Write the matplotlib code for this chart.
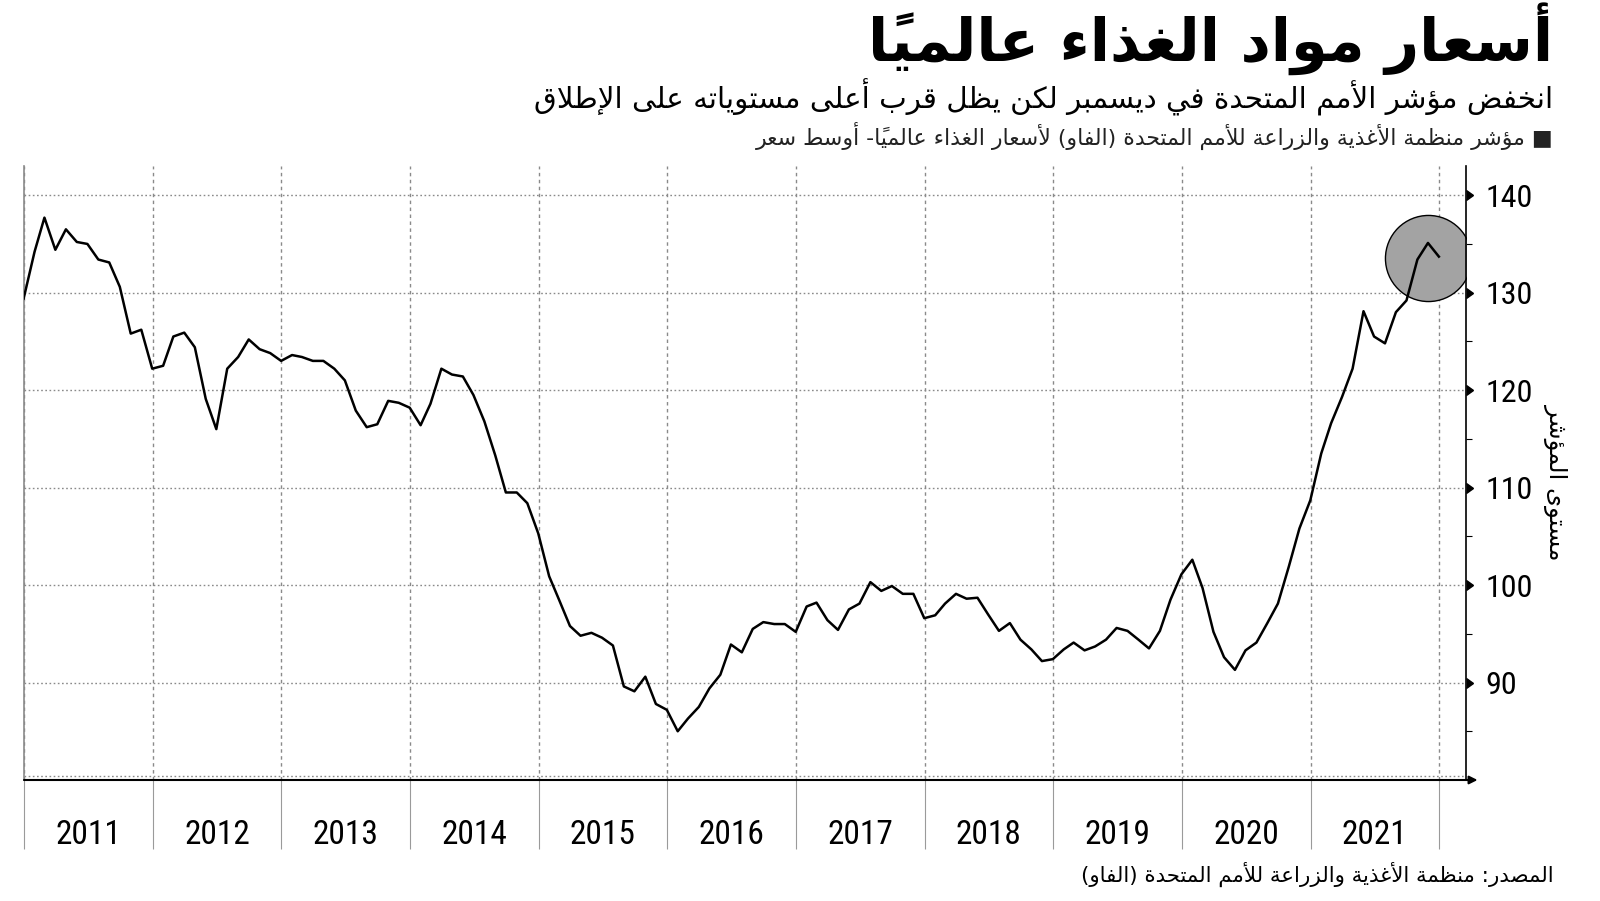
import pandas as pd
import matplotlib
matplotlib.use('Agg')
import matplotlib.pyplot as plt
from matplotlib import font_manager
import numpy as np

# FAO food price index, monthly, Dec 2010 .. Dec 2021
ffpi = [
    129.4,                                                                          # Dec 2010
    134.2, 137.7, 134.4, 136.5, 135.2, 135.0, 133.4, 133.1, 130.6, 125.8, 126.2, 122.2,  # 2011
    122.5, 125.5, 125.9, 124.4, 119.1, 116.0, 122.2, 123.4, 125.2, 124.2, 123.8, 123.0,  # 2012
    123.6, 123.4, 123.0, 123.0, 122.2, 121.0, 117.9, 116.2, 116.5, 118.9, 118.7, 118.2,  # 2013
    116.4, 118.6, 122.2, 121.6, 121.4, 119.5, 116.8, 113.3, 109.5, 109.5, 108.4, 105.3,  # 2014
    100.9, 98.5, 95.8, 94.8, 95.1, 94.6, 93.8, 89.6, 89.1, 90.6, 87.8, 87.2,            # 2015
    85.0, 86.3, 87.5, 89.4, 90.8, 93.9, 93.1, 95.5, 96.2, 96.0, 96.0, 95.2,             # 2016
    97.8, 98.2, 96.4, 95.4, 97.5, 98.1, 100.3, 99.4, 99.9, 99.1, 99.1, 96.6,            # 2017
    96.9, 98.1, 99.1, 98.6, 98.7, 97.0, 95.3, 96.1, 94.4, 93.4, 92.2, 92.4,             # 2018
    93.4, 94.1, 93.3, 93.7, 94.4, 95.6, 95.3, 94.4, 93.5, 95.3, 98.5, 101.1,            # 2019
    102.6, 99.7, 95.2, 92.6, 91.3, 93.3, 94.1, 96.1, 98.1, 101.9, 105.8, 108.7,         # 2020
    113.5, 116.6, 119.3, 122.2, 128.1, 125.5, 124.8, 128.0, 129.2, 133.4, 135.1, 133.7,  # 2021
]
months = pd.date_range('2010-12-31', periods=len(ffpi), freq='ME')

years = list(range(2011, 2022))
y_major = [90, 100, 110, 120, 130, 140]
y_minor = [85, 95, 105, 115, 125, 135]

# circle around the latest readings
circle_month = months[-2]
circle_value = 133.6

title = 'أسعار مواد الغذاء عالمياً'
subtitle = 'انخفض مؤشر الأمم المتحدة في ديسمبر لكن يظل قرب أعلى مستوياته على الإطلاق'
legend_label = '■ مؤشر منظمة الأغذية والزراعة للأمم المتحدة (الفاو) لأسعار الغذاء عالمياً- أوسط سعر'
y_label = 'مستوى المؤشر'
source = 'المصدر: منظمة الأغذية والزراعة للأمم المتحدة (الفاو)'

# matplotlib has no Arabic shaping, so pick the presentation forms by hand
# and put the glyphs in visual (right to left) order
AR_FORMS = {
    'ء': (0xFE80, 1), 'آ': (0xFE81, 2), 'أ': (0xFE83, 2), 'ؤ': (0xFE85, 2),
    'إ': (0xFE87, 2), 'ئ': (0xFE89, 4), 'ا': (0xFE8D, 2), 'ب': (0xFE8F, 4),
    'ة': (0xFE93, 2), 'ت': (0xFE95, 4), 'ث': (0xFE99, 4), 'ج': (0xFE9D, 4),
    'ح': (0xFEA1, 4), 'خ': (0xFEA5, 4), 'د': (0xFEA9, 2), 'ذ': (0xFEAB, 2),
    'ر': (0xFEAD, 2), 'ز': (0xFEAF, 2), 'س': (0xFEB1, 4), 'ش': (0xFEB5, 4),
    'ص': (0xFEB9, 4), 'ض': (0xFEBD, 4), 'ط': (0xFEC1, 4), 'ظ': (0xFEC5, 4),
    'ع': (0xFEC9, 4), 'غ': (0xFECD, 4), 'ف': (0xFED1, 4), 'ق': (0xFED5, 4),
    'ك': (0xFED9, 4), 'ل': (0xFEDD, 4), 'م': (0xFEE1, 4), 'ن': (0xFEE5, 4),
    'ه': (0xFEE9, 4), 'و': (0xFEED, 2), 'ى': (0xFEEF, 2), 'ي': (0xFEF1, 4),
}
LAM_ALEF = {'آ': 0xFEF5, 'أ': 0xFEF7, 'إ': 0xFEF9, 'ا': 0xFEFB}
MARKS = set('\u064b\u064c\u064d\u064e\u064f\u0650\u0651\u0652')
MIRROR = {'(': ')', ')': '('}


def form_info(c):
    if c.startswith('LA'):
        return (LAM_ALEF[c[2]], 2)
    return AR_FORMS.get(c)


def shape(text):
    clusters = []
    for ch in text:
        if ch in MARKS and clusters:
            clusters[-1][1] += ch
        else:
            clusters.append([ch, ''])
    merged = []
    i = 0
    while i < len(clusters):
        ch, mk = clusters[i]
        if ch == 'ل' and not mk and i + 1 < len(clusters) and clusters[i + 1][0] in LAM_ALEF:
            merged.append(['LA' + clusters[i + 1][0], clusters[i + 1][1]])
            i += 2
        else:
            merged.append([ch, mk])
            i += 1
    out = []
    for k, (ch, mk) in enumerate(merged):
        f = form_info(ch)
        if f is None:
            out.append(MIRROR.get(ch, ch) + mk)
            continue
        base, n = f
        prev = form_info(merged[k - 1][0]) if k > 0 else None
        nxt = form_info(merged[k + 1][0]) if k + 1 < len(merged) else None
        join_prev = prev is not None and prev[1] == 4 and n > 1
        join_next = nxt is not None and nxt[1] > 1 and n == 4
        if n == 1:
            code = base
        elif join_prev and join_next:
            code = base + 3
        elif join_prev:
            code = base + 1
        elif join_next:
            code = base + 2
        else:
            code = base
        out.append(chr(code) + mk)
    return ''.join(reversed(out))


# a narrow face for the numbers if one is installed
installed = {f.name for f in font_manager.fontManager.ttflist}
narrow = [n for n in ['Liberation Sans Narrow', 'DejaVu Sans Condensed', 'Roboto Condensed',
                      'Open Sans Condensed'] if n in installed]
num_font = narrow[:1] + ['DejaVu Sans']
ar_font = ['DejaVu Sans']

fig = plt.figure(figsize=(16, 9.01), dpi=100)
ax = fig.add_axes([0.015, 0.1343, 0.90125, 0.6815])

# highlight circle, then the index line on top
ax.plot(circle_month, circle_value, marker='o', ms=62, mfc='#a3a3a3', mec='black',
        mew=1.0, zorder=2)
ax.plot(months, ffpi, color='black', lw=1.8, zorder=3)

ax.set_ylim(80, 143)
ax.set_xlim(pd.Timestamp('2011-01-01'), pd.Timestamp('2022-03-18'))

# year boundaries as major ticks, year names on minor ticks in the middle
bounds = pd.to_datetime([f'{y}-01-01' for y in range(2011, 2023)])
mids = pd.to_datetime([f'{y}-07-02' for y in years])
ax.set_xticks(bounds)
ax.set_xticklabels([])
ax.set_xticks(mids, minor=True)
ax.set_xticklabels([str(y) for y in years], minor=True, family=num_font, fontsize=24,
                   fontstretch='condensed')
ax.tick_params(axis='x', which='major', length=50, width=0.8, color='#9a9a9a', direction='out')
ax.tick_params(axis='x', which='minor', length=0, pad=28)

ax.yaxis.tick_right()
ax.set_yticks(y_major)
ax.set_yticks(y_minor, minor=True)
ax.set_yticklabels([str(v) for v in y_major], family=num_font, fontsize=23,
                   fontstretch='condensed')
ax.tick_params(axis='y', which='major', length=0, pad=14)
ax.tick_params(axis='y', which='minor', length=4, width=0.8, color='black', direction='out')
ax.plot(np.ones(len(y_major)), y_major, transform=ax.get_yaxis_transform(), ls='none',
        marker=9, ms=7, color='black', clip_on=False, zorder=5)

ax.grid(axis='y', which='major', color='#8a8a8a', lw=1.0, ls=(0, (1.2, 1.8)))
ax.grid(axis='x', which='major', color='#8a8a8a', lw=1.0, ls=(0, (2.5, 2.5)))
ax.axhline(80.4, color='#8a8a8a', lw=1.0, ls=(0, (1.2, 1.8)))

ax.spines['top'].set_visible(False)
ax.spines['bottom'].set_visible(False)
ax.spines['left'].set_color('#8a8a8a')
ax.spines['left'].set_linewidth(1.2)
ax.spines['right'].set_color('black')
ax.spines['right'].set_linewidth(1.2)
ax.annotate('', xy=(1.008, 0), xytext=(0, 0), xycoords='axes fraction',
            arrowprops=dict(arrowstyle='-|>', color='black', lw=1.5, mutation_scale=12,
                            shrinkA=0, shrinkB=0))

ax.set_ylabel(shape(y_label), family=ar_font, fontsize=17.5, rotation=-90)
ax.yaxis.set_label_position('right')
ax.yaxis.set_label_coords(1.0624, 0.486)
ax.yaxis.label.set_va('center')
ax.yaxis.label.set_ha('center')

fig.text(0.971, 0.957, shape(title), ha='right', va='center', family=ar_font,
         fontsize=42.5, fontweight='bold')
fig.text(0.971, 0.892, shape(subtitle), ha='right', va='center', family=ar_font, fontsize=21.2)
fig.text(0.971, 0.849, shape(legend_label), ha='right', va='center', family=ar_font,
         fontsize=15.8, color='#222222')
fig.text(0.971, 0.029, shape(source), ha='right', va='center', family=ar_font, fontsize=15.4)

fig.savefig('out.png', dpi=100, facecolor='white')
